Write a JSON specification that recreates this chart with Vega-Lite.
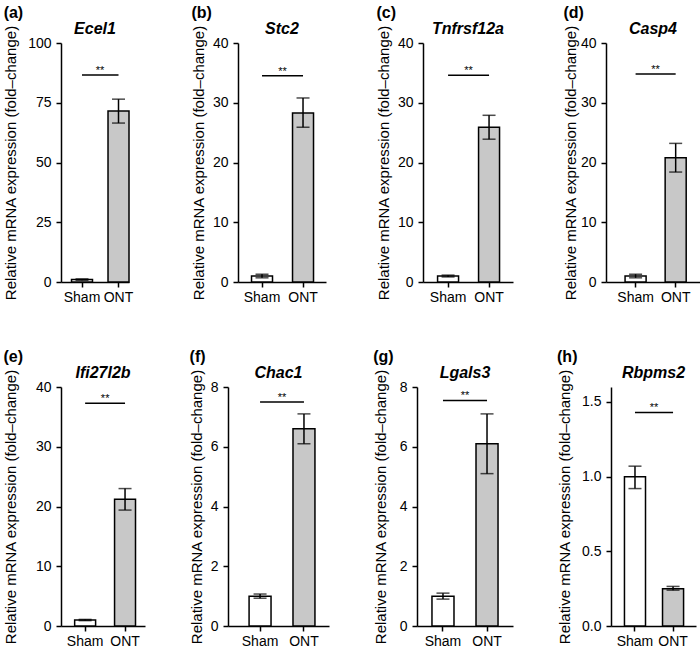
{
  "$schema": "https://vega.github.io/schema/vega-lite/v6.json",
  "padding": {"left": 3, "top": 4, "right": 0, "bottom": 0},
  "config": {
    "view": {"stroke": null},
    "font": "Liberation Sans",
    "axis": {"domainColor": "#000", "domainWidth": 1.5, "tickColor": "#000", "tickWidth": 1.5, "tickSize": 5, "labelColor": "#000", "labelFontSize": 14, "titleFontSize": 15, "titleFontWeight": "normal", "titleColor": "#000", "grid": false, "labelPadding": 5, "titlePadding": 6},
    "axisX": {"labelPadding": 3},
    "title": {"color": "#000"},
    "concat": {"spacing": 47}
  },
  "datasets": {
    "bars": [
      {"panel": "a", "group": "Sham", "value": 1.0, "lo": 0.7, "hi": 1.3},
      {"panel": "a", "group": "ONT", "value": 71.5, "lo": 66.5, "hi": 76.5},
      {"panel": "b", "group": "Sham", "value": 1.0, "lo": 0.7, "hi": 1.3},
      {"panel": "b", "group": "ONT", "value": 28.3, "lo": 25.9, "hi": 30.8},
      {"panel": "c", "group": "Sham", "value": 1.0, "lo": 0.85, "hi": 1.15},
      {"panel": "c", "group": "ONT", "value": 25.9, "lo": 23.9, "hi": 27.9},
      {"panel": "d", "group": "Sham", "value": 1.0, "lo": 0.7, "hi": 1.3},
      {"panel": "d", "group": "ONT", "value": 20.8, "lo": 18.4, "hi": 23.2},
      {"panel": "e", "group": "Sham", "value": 1.0, "lo": 0.9, "hi": 1.1},
      {"panel": "e", "group": "ONT", "value": 21.2, "lo": 19.4, "hi": 23.0},
      {"panel": "f", "group": "Sham", "value": 1.0, "lo": 0.93, "hi": 1.07},
      {"panel": "f", "group": "ONT", "value": 6.6, "lo": 6.1, "hi": 7.1},
      {"panel": "g", "group": "Sham", "value": 1.0, "lo": 0.9, "hi": 1.1},
      {"panel": "g", "group": "ONT", "value": 6.1, "lo": 5.1, "hi": 7.1},
      {"panel": "h", "group": "Sham", "value": 1.0, "lo": 0.92, "hi": 1.07},
      {"panel": "h", "group": "ONT", "value": 0.25, "lo": 0.24, "hi": 0.265}
    ],
    "sig": [
      {"panel": "a", "group": "Sham", "group2": "ONT", "value": 86.6},
      {"panel": "b", "group": "Sham", "group2": "ONT", "value": 34.5},
      {"panel": "c", "group": "Sham", "group2": "ONT", "value": 34.6},
      {"panel": "d", "group": "Sham", "group2": "ONT", "value": 34.8},
      {"panel": "e", "group": "Sham", "group2": "ONT", "value": 37.3},
      {"panel": "f", "group": "Sham", "group2": "ONT", "value": 7.5},
      {"panel": "g", "group": "Sham", "group2": "ONT", "value": 7.55},
      {"panel": "h", "group": "Sham", "group2": "ONT", "value": 1.43}
    ]
  },
  "spacing": 44,
  "vconcat": [
    {
      "spacing": 58,
      "hconcat": [
        {
          "title": {"text": "(a)", "anchor": "start", "frame": "bounds", "fontSize": 16, "fontWeight": "bold", "offset": 0},
          "vconcat": [{
            "title": {"text": "Ecel1", "fontStyle": "italic", "fontWeight": "bold", "fontSize": 16, "anchor": "middle", "offset": -12},
            "width": 68, "height": 239,
            "layer": [
              {"data": {"name": "bars"}, "transform": [{"filter": "datum.panel === 'a'"}],
               "mark": {"type": "bar", "stroke": "#000", "strokeWidth": 1.5},
               "encoding": {
                 "x": {"field": "group", "type": "nominal", "scale": {"domain": ["Sham", "ONT"], "paddingInner": 0.425, "paddingOuter": 0.144, "align": 1}, "axis": {"title": null, "labelAngle": 0}},
                 "y": {"field": "value", "type": "quantitative", "scale": {"domain": [0, 100]}, "axis": {"values": [0, 25, 50, 75, 100], "titlePadding": 9}, "title": "Relative mRNA expression (fold–change)"},
                 "color": {"field": "group", "type": "nominal", "scale": {"domain": ["Sham", "ONT"], "range": ["#ffffff", "#c8c8c8"]}, "legend": null}}},
              {"data": {"name": "bars"}, "transform": [{"filter": "datum.panel === 'a'"}],
               "mark": {"type": "errorbar", "ticks": {"size": 13}, "thickness": 1.5, "color": "#000"},
               "encoding": {"x": {"field": "group", "type": "nominal"}, "y": {"field": "lo", "type": "quantitative", "title": "Relative mRNA expression (fold–change)"}, "y2": {"field": "hi"}}},
              {"data": {"name": "sig"}, "transform": [{"filter": "datum.panel === 'a'"}],
               "mark": {"type": "rule", "strokeWidth": 1.5, "color": "#000"},
               "encoding": {"x": {"field": "group", "type": "nominal"}, "x2": {"field": "group2"}, "y": {"field": "value", "type": "quantitative", "title": "Relative mRNA expression (fold–change)"}}},
              {"data": {"name": "sig"}, "transform": [{"filter": "datum.panel === 'a'"}],
               "mark": {"type": "text", "text": "**", "dx": 18, "dy": -1, "fontSize": 11, "baseline": "alphabetic", "color": "#000"},
               "encoding": {"x": {"field": "group", "type": "nominal"}, "y": {"field": "value", "type": "quantitative", "title": "Relative mRNA expression (fold–change)"}}}
            ]
          }]
        },
        {
          "spacing": 50,
          "hconcat": [
            {
              "title": {"text": "(b)", "anchor": "start", "frame": "bounds", "fontSize": 16, "fontWeight": "bold", "offset": 0},
              "vconcat": [{
                "title": {"text": "Stc2", "fontStyle": "italic", "fontWeight": "bold", "fontSize": 16, "anchor": "middle", "offset": -12},
                "width": 88, "height": 239,
                "layer": [
                  {"data": {"name": "bars"}, "transform": [{"filter": "datum.panel === 'b'"}],
                   "mark": {"type": "bar", "stroke": "#000", "strokeWidth": 1.5},
                   "encoding": {
                     "x": {"field": "group", "type": "nominal", "scale": {"domain": ["Sham", "ONT"], "paddingInner": 0.488, "paddingOuter": 0.317, "align": 0.52}, "axis": {"title": null, "labelAngle": 0}},
                     "y": {"field": "value", "type": "quantitative", "scale": {"domain": [0, 40]}, "axis": {"values": [0, 10, 20, 30, 40]}, "title": "Relative mRNA expression (fold–change)"},
                     "color": {"field": "group", "type": "nominal", "scale": {"domain": ["Sham", "ONT"], "range": ["#ffffff", "#c8c8c8"]}, "legend": null}}},
                  {"data": {"name": "bars"}, "transform": [{"filter": "datum.panel === 'b'"}],
                   "mark": {"type": "errorbar", "ticks": {"size": 13}, "thickness": 1.5, "color": "#000"},
                   "encoding": {"x": {"field": "group", "type": "nominal"}, "y": {"field": "lo", "type": "quantitative", "title": "Relative mRNA expression (fold–change)"}, "y2": {"field": "hi"}}},
                  {"data": {"name": "sig"}, "transform": [{"filter": "datum.panel === 'b'"}],
                   "mark": {"type": "rule", "strokeWidth": 1.5, "color": "#000"},
                   "encoding": {"x": {"field": "group", "type": "nominal"}, "x2": {"field": "group2"}, "y": {"field": "value", "type": "quantitative", "title": "Relative mRNA expression (fold–change)"}}},
                  {"data": {"name": "sig"}, "transform": [{"filter": "datum.panel === 'b'"}],
                   "mark": {"type": "text", "text": "**", "dx": 20.5, "dy": -1, "fontSize": 11, "baseline": "alphabetic", "color": "#000"},
                   "encoding": {"x": {"field": "group", "type": "nominal"}, "y": {"field": "value", "type": "quantitative", "title": "Relative mRNA expression (fold–change)"}}}
                ]
              }]
            },
            {
              "title": {"text": "(c)", "anchor": "start", "frame": "bounds", "fontSize": 16, "fontWeight": "bold", "offset": 0},
              "vconcat": [{
                "title": {"text": "Tnfrsf12a", "fontStyle": "italic", "fontWeight": "bold", "fontSize": 16, "anchor": "middle", "offset": -12},
                "width": 90, "height": 239,
                "layer": [
                  {"data": {"name": "bars"}, "transform": [{"filter": "datum.panel === 'c'"}],
                   "mark": {"type": "bar", "stroke": "#000", "strokeWidth": 1.5},
                   "encoding": {
                     "x": {"field": "group", "type": "nominal", "scale": {"domain": ["Sham", "ONT"], "paddingInner": 0.488, "paddingOuter": 0.342, "align": 0.52}, "axis": {"title": null, "labelAngle": 0}},
                     "y": {"field": "value", "type": "quantitative", "scale": {"domain": [0, 40]}, "axis": {"values": [0, 10, 20, 30, 40]}, "title": "Relative mRNA expression (fold–change)"},
                     "color": {"field": "group", "type": "nominal", "scale": {"domain": ["Sham", "ONT"], "range": ["#ffffff", "#c8c8c8"]}, "legend": null}}},
                  {"data": {"name": "bars"}, "transform": [{"filter": "datum.panel === 'c'"}],
                   "mark": {"type": "errorbar", "ticks": {"size": 13}, "thickness": 1.5, "color": "#000"},
                   "encoding": {"x": {"field": "group", "type": "nominal"}, "y": {"field": "lo", "type": "quantitative", "title": "Relative mRNA expression (fold–change)"}, "y2": {"field": "hi"}}},
                  {"data": {"name": "sig"}, "transform": [{"filter": "datum.panel === 'c'"}],
                   "mark": {"type": "rule", "strokeWidth": 1.5, "color": "#000"},
                   "encoding": {"x": {"field": "group", "type": "nominal"}, "x2": {"field": "group2"}, "y": {"field": "value", "type": "quantitative", "title": "Relative mRNA expression (fold–change)"}}},
                  {"data": {"name": "sig"}, "transform": [{"filter": "datum.panel === 'c'"}],
                   "mark": {"type": "text", "text": "**", "dx": 20.5, "dy": -1, "fontSize": 11, "baseline": "alphabetic", "color": "#000"},
                   "encoding": {"x": {"field": "group", "type": "nominal"}, "y": {"field": "value", "type": "quantitative", "title": "Relative mRNA expression (fold–change)"}}}
                ]
              }]
            },
            {
              "title": {"text": "(d)", "anchor": "start", "frame": "bounds", "fontSize": 16, "fontWeight": "bold", "offset": 0},
              "vconcat": [{
                "title": {"text": "Casp4", "fontStyle": "italic", "fontWeight": "bold", "fontSize": 16, "anchor": "middle", "offset": -12},
                "width": 94, "height": 239,
                "layer": [
                  {"data": {"name": "bars"}, "transform": [{"filter": "datum.panel === 'd'"}],
                   "mark": {"type": "bar", "stroke": "#000", "strokeWidth": 1.5},
                   "encoding": {
                     "x": {"field": "group", "type": "nominal", "scale": {"domain": ["Sham", "ONT"], "paddingInner": 0.475, "paddingOuter": 0.41, "align": 0.58}, "axis": {"title": null, "labelAngle": 0}},
                     "y": {"field": "value", "type": "quantitative", "scale": {"domain": [0, 40]}, "axis": {"values": [0, 10, 20, 30, 40], "titlePadding": 2}, "title": "Relative mRNA expression (fold–change)"},
                     "color": {"field": "group", "type": "nominal", "scale": {"domain": ["Sham", "ONT"], "range": ["#ffffff", "#c8c8c8"]}, "legend": null}}},
                  {"data": {"name": "bars"}, "transform": [{"filter": "datum.panel === 'd'"}],
                   "mark": {"type": "errorbar", "ticks": {"size": 13}, "thickness": 1.5, "color": "#000"},
                   "encoding": {"x": {"field": "group", "type": "nominal"}, "y": {"field": "lo", "type": "quantitative", "title": "Relative mRNA expression (fold–change)"}, "y2": {"field": "hi"}}},
                  {"data": {"name": "sig"}, "transform": [{"filter": "datum.panel === 'd'"}],
                   "mark": {"type": "rule", "strokeWidth": 1.5, "color": "#000"},
                   "encoding": {"x": {"field": "group", "type": "nominal"}, "x2": {"field": "group2"}, "y": {"field": "value", "type": "quantitative", "title": "Relative mRNA expression (fold–change)"}}},
                  {"data": {"name": "sig"}, "transform": [{"filter": "datum.panel === 'd'"}],
                   "mark": {"type": "text", "text": "**", "dx": 20, "dy": -1, "fontSize": 11, "baseline": "alphabetic", "color": "#000"},
                   "encoding": {"x": {"field": "group", "type": "nominal"}, "y": {"field": "value", "type": "quantitative", "title": "Relative mRNA expression (fold–change)"}}}
                ]
              }]
            }
          ]
        }
      ]
    },
    {
      "spacing": 44,
      "hconcat": [
        {
          "title": {"text": "(e)", "anchor": "start", "frame": "bounds", "fontSize": 16, "fontWeight": "bold", "offset": 0},
          "vconcat": [{
            "title": {"text": "Ifi27l2b", "fontStyle": "italic", "fontWeight": "bold", "fontSize": 16, "anchor": "middle", "offset": -12},
            "width": 84, "height": 239,
            "layer": [
              {"data": {"name": "bars"}, "transform": [{"filter": "datum.panel === 'e'"}],
               "mark": {"type": "bar", "stroke": "#000", "strokeWidth": 1.5},
               "encoding": {
                 "x": {"field": "group", "type": "nominal", "scale": {"domain": ["Sham", "ONT"], "paddingInner": 0.475, "paddingOuter": 0.29, "align": 0.59}, "axis": {"title": null, "labelAngle": 0}},
                 "y": {"field": "value", "type": "quantitative", "scale": {"domain": [0, 40]}, "axis": {"values": [0, 10, 20, 30, 40], "titlePadding": 17}, "title": "Relative mRNA expression (fold–change)"},
                 "color": {"field": "group", "type": "nominal", "scale": {"domain": ["Sham", "ONT"], "range": ["#ffffff", "#c8c8c8"]}, "legend": null}}},
              {"data": {"name": "bars"}, "transform": [{"filter": "datum.panel === 'e'"}],
               "mark": {"type": "errorbar", "ticks": {"size": 13}, "thickness": 1.5, "color": "#000"},
               "encoding": {"x": {"field": "group", "type": "nominal"}, "y": {"field": "lo", "type": "quantitative", "title": "Relative mRNA expression (fold–change)"}, "y2": {"field": "hi"}}},
              {"data": {"name": "sig"}, "transform": [{"filter": "datum.panel === 'e'"}],
               "mark": {"type": "rule", "strokeWidth": 1.5, "color": "#000"},
               "encoding": {"x": {"field": "group", "type": "nominal"}, "x2": {"field": "group2"}, "y": {"field": "value", "type": "quantitative", "title": "Relative mRNA expression (fold–change)"}}},
              {"data": {"name": "sig"}, "transform": [{"filter": "datum.panel === 'e'"}],
               "mark": {"type": "text", "text": "**", "dx": 20, "dy": -1, "fontSize": 11, "baseline": "alphabetic", "color": "#000"},
               "encoding": {"x": {"field": "group", "type": "nominal"}, "y": {"field": "value", "type": "quantitative", "title": "Relative mRNA expression (fold–change)"}}}
            ]
          }]
        },
        {
          "title": {"text": "(f)", "anchor": "start", "frame": "bounds", "fontSize": 16, "fontWeight": "bold", "offset": 0},
          "vconcat": [{
            "title": {"text": "Chac1", "fontStyle": "italic", "fontWeight": "bold", "fontSize": 16, "anchor": "middle", "offset": -12},
            "width": 101, "height": 239,
            "layer": [
              {"data": {"name": "bars"}, "transform": [{"filter": "datum.panel === 'f'"}],
               "mark": {"type": "bar", "stroke": "#000", "strokeWidth": 1.5},
               "encoding": {
                 "x": {"field": "group", "type": "nominal", "scale": {"domain": ["Sham", "ONT"], "paddingInner": 0.5, "paddingOuter": 0.4, "align": 0.6}, "axis": {"title": null, "labelAngle": 0}},
                 "y": {"field": "value", "type": "quantitative", "scale": {"domain": [0, 8]}, "axis": {"values": [0, 2, 4, 6, 8], "titlePadding": 5.6}, "title": "Relative mRNA expression (fold–change)"},
                 "color": {"field": "group", "type": "nominal", "scale": {"domain": ["Sham", "ONT"], "range": ["#ffffff", "#c8c8c8"]}, "legend": null}}},
              {"data": {"name": "bars"}, "transform": [{"filter": "datum.panel === 'f'"}],
               "mark": {"type": "errorbar", "ticks": {"size": 13}, "thickness": 1.5, "color": "#000"},
               "encoding": {"x": {"field": "group", "type": "nominal"}, "y": {"field": "lo", "type": "quantitative", "title": "Relative mRNA expression (fold–change)"}, "y2": {"field": "hi"}}},
              {"data": {"name": "sig"}, "transform": [{"filter": "datum.panel === 'f'"}],
               "mark": {"type": "rule", "strokeWidth": 1.5, "color": "#000"},
               "encoding": {"x": {"field": "group", "type": "nominal"}, "x2": {"field": "group2"}, "y": {"field": "value", "type": "quantitative", "title": "Relative mRNA expression (fold–change)"}}},
              {"data": {"name": "sig"}, "transform": [{"filter": "datum.panel === 'f'"}],
               "mark": {"type": "text", "text": "**", "dx": 22, "dy": -1, "fontSize": 11, "baseline": "alphabetic", "color": "#000"},
               "encoding": {"x": {"field": "group", "type": "nominal"}, "y": {"field": "value", "type": "quantitative", "title": "Relative mRNA expression (fold–change)"}}}
            ]
          }]
        },
        {
          "title": {"text": "(g)", "anchor": "start", "frame": "bounds", "fontSize": 16, "fontWeight": "bold", "offset": 0},
          "vconcat": [{
            "title": {"text": "Lgals3", "fontStyle": "italic", "fontWeight": "bold", "fontSize": 16, "anchor": "middle", "offset": -12},
            "width": 96, "height": 239,
            "layer": [
              {"data": {"name": "bars"}, "transform": [{"filter": "datum.panel === 'g'"}],
               "mark": {"type": "bar", "stroke": "#000", "strokeWidth": 1.5},
               "encoding": {
                 "x": {"field": "group", "type": "nominal", "scale": {"domain": ["Sham", "ONT"], "paddingInner": 0.5, "paddingOuter": 0.34, "align": 0.5}, "axis": {"title": null, "labelAngle": 0}},
                 "y": {"field": "value", "type": "quantitative", "scale": {"domain": [0, 8]}, "axis": {"values": [0, 2, 4, 6, 8], "titlePadding": 11}, "title": "Relative mRNA expression (fold–change)"},
                 "color": {"field": "group", "type": "nominal", "scale": {"domain": ["Sham", "ONT"], "range": ["#ffffff", "#c8c8c8"]}, "legend": null}}},
              {"data": {"name": "bars"}, "transform": [{"filter": "datum.panel === 'g'"}],
               "mark": {"type": "errorbar", "ticks": {"size": 13}, "thickness": 1.5, "color": "#000"},
               "encoding": {"x": {"field": "group", "type": "nominal"}, "y": {"field": "lo", "type": "quantitative", "title": "Relative mRNA expression (fold–change)"}, "y2": {"field": "hi"}}},
              {"data": {"name": "sig"}, "transform": [{"filter": "datum.panel === 'g'"}],
               "mark": {"type": "rule", "strokeWidth": 1.5, "color": "#000"},
               "encoding": {"x": {"field": "group", "type": "nominal"}, "x2": {"field": "group2"}, "y": {"field": "value", "type": "quantitative", "title": "Relative mRNA expression (fold–change)"}}},
              {"data": {"name": "sig"}, "transform": [{"filter": "datum.panel === 'g'"}],
               "mark": {"type": "text", "text": "**", "dx": 22, "dy": -1, "fontSize": 11, "baseline": "alphabetic", "color": "#000"},
               "encoding": {"x": {"field": "group", "type": "nominal"}, "y": {"field": "value", "type": "quantitative", "title": "Relative mRNA expression (fold–change)"}}}
            ]
          }]
        },
        {
          "title": {"text": "(h)", "anchor": "start", "frame": "bounds", "fontSize": 16, "fontWeight": "bold", "offset": 0},
          "vconcat": [{
            "title": {"text": "Rbpms2", "fontStyle": "italic", "fontWeight": "bold", "fontSize": 16, "anchor": "middle", "offset": -12},
            "width": 85, "height": 239,
            "layer": [
              {"data": {"name": "bars"}, "transform": [{"filter": "datum.panel === 'h'"}],
               "mark": {"type": "bar", "stroke": "#000", "strokeWidth": 1.5},
               "encoding": {
                 "x": {"field": "group", "type": "nominal", "scale": {"domain": ["Sham", "ONT"], "paddingInner": 0.447, "paddingOuter": 0.34, "align": 0.52}, "axis": {"title": null, "labelAngle": 0}},
                 "y": {"field": "value", "type": "quantitative", "scale": {"domain": [0, 1.5]}, "axis": {"values": [0, 0.5, 1, 1.5], "format": ".1f", "titlePadding": 9.5}, "title": "Relative mRNA expression (fold–change)"},
                 "color": {"field": "group", "type": "nominal", "scale": {"domain": ["Sham", "ONT"], "range": ["#ffffff", "#c8c8c8"]}, "legend": null}}},
              {"data": {"name": "bars"}, "transform": [{"filter": "datum.panel === 'h'"}],
               "mark": {"type": "errorbar", "ticks": {"size": 13}, "thickness": 1.5, "color": "#000"},
               "encoding": {"x": {"field": "group", "type": "nominal"}, "y": {"field": "lo", "type": "quantitative", "title": "Relative mRNA expression (fold–change)"}, "y2": {"field": "hi"}}},
              {"data": {"name": "sig"}, "transform": [{"filter": "datum.panel === 'h'"}],
               "mark": {"type": "rule", "strokeWidth": 1.5, "color": "#000"},
               "encoding": {"x": {"field": "group", "type": "nominal"}, "x2": {"field": "group2"}, "y": {"field": "value", "type": "quantitative", "title": "Relative mRNA expression (fold–change)"}}},
              {"data": {"name": "sig"}, "transform": [{"filter": "datum.panel === 'h'"}],
               "mark": {"type": "text", "text": "**", "dx": 19, "dy": -1, "fontSize": 11, "baseline": "alphabetic", "color": "#000"},
               "encoding": {"x": {"field": "group", "type": "nominal"}, "y": {"field": "value", "type": "quantitative", "title": "Relative mRNA expression (fold–change)"}}}
            ]
          }]
        }
      ]
    }
  ]
}
